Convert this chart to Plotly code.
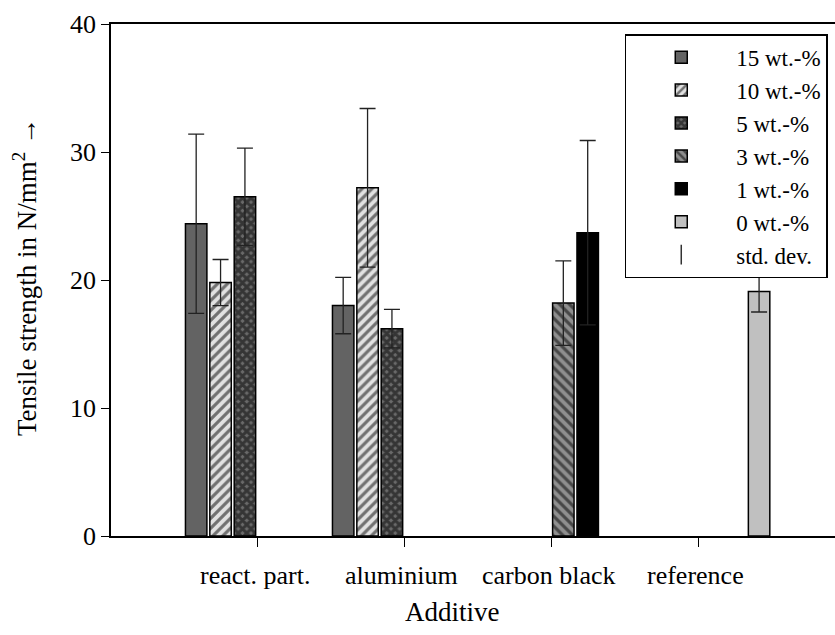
import plotly.graph_objects as go

categories = ["react. part.", "aluminium", "carbon black", "reference"]
series_names = ["15 wt.-%", "10 wt.-%", "5 wt.-%", "3 wt.-%", "1 wt.-%", "0 wt.-%"]
means = {
    "15 wt.-%": [24.4, 18.0, None, None],
    "10 wt.-%": [19.8, 27.2, None, None],
    "5 wt.-%": [26.5, 16.2, None, None],
    "3 wt.-%": [None, None, 18.2, None],
    "1 wt.-%": [None, None, 23.7, None],
    "0 wt.-%": [None, None, None, 19.1],
}
stds = {
    "15 wt.-%": [7.0, 2.2, None, None],
    "10 wt.-%": [1.8, 6.2, None, None],
    "5 wt.-%": [3.8, 1.5, None, None],
    "3 wt.-%": [None, None, 3.3, None],
    "1 wt.-%": [None, None, 7.2, None],
    "0 wt.-%": [None, None, None, 1.6],
}
y_ticks = [0, 10, 20, 30, 40]

styles = {
    "15 wt.-%": dict(bg="#636363", shape="", fg="#000000", size=7, solidity=0.3),
    "10 wt.-%": dict(bg="#e2e2e2", shape="/", fg="#000000", size=7, solidity=0.45),
    "5 wt.-%": dict(bg="#6a6a6a", shape="x", fg="#000000", size=6, solidity=0.75),
    "3 wt.-%": dict(bg="#8f8f8f", shape="\\", fg="#000000", size=7, solidity=0.45),
    "1 wt.-%": dict(bg="#000000", shape="", fg="#000000", size=7, solidity=0.3),
    "0 wt.-%": dict(bg="#c0c0c0", shape="", fg="#000000", size=7, solidity=0.3),
}

FONT = "Liberation Serif"
FS = 26
fig = go.Figure()
for i, name in enumerate(series_names):
    st = styles[name]
    pattern = dict(shape=st["shape"], fgcolor=st["fg"], bgcolor=st["bg"],
                   size=st["size"], solidity=st["solidity"], fillmode="overlay")
    fig.add_trace(go.Bar(
        name=name, x=categories, y=means[name],
        marker=dict(color=st["bg"], line=dict(color="#000000", width=1.5),
                    pattern=pattern),
        error_y=dict(type="data", array=stds[name], visible=True,
                     color="#222222", thickness=1.3, width=8),
        legendgroup=name,
    ))

fig.add_trace(go.Scatter(
    name="std. dev.", x=[None], y=[None], mode="markers",
    marker=dict(symbol="line-ns-open", size=14, color="#333333",
                line=dict(color="#333333", width=1.5)),
    legendgroup="std",
))

annotations = []
for i, lab in enumerate(categories):
    annotations.append(dict(x=i - 0.015, y=-0.078, xref="x", yref="paper", text=lab,
                            showarrow=False, xanchor="center", yanchor="middle",
                            font=dict(family=FONT, size=FS, color="#000")))
annotations.append(dict(x=0.471, y=-0.148, xref="paper", yref="paper", text="Additive",
                        showarrow=False, xanchor="center", yanchor="middle",
                        font=dict(family=FONT, size=27, color="#000")))
annotations.append(dict(x=-0.118, y=0.505, xref="paper", yref="paper",
                        text="Tensile strength in N/mm<sup>2</sup> \u2192",
                        textangle=-90, showarrow=False, xanchor="center", yanchor="middle",
                        font=dict(family=FONT, size=27, color="#000")))

fig.update_layout(
    width=835, height=635,
    margin=dict(l=111, r=0, t=24, b=99),
    paper_bgcolor="white", plot_bgcolor="white",
    barmode="group", bargap=0.005, bargroupgap=0.12,
    font=dict(family=FONT, size=FS, color="#000"),
    legend=dict(x=0.99, y=0.98, xanchor="right", yanchor="top",
                bgcolor="white", bordercolor="#000", borderwidth=1.5,
                font=dict(family=FONT, size=23, color="#000"),
                tracegroupgap=0, itemwidth=100),
    annotations=annotations,
    showlegend=True,
)
fig.update_xaxes(type="category", range=[-0.994, 3.931], showline=True, linecolor="#000",
                 linewidth=1.5, mirror=True, ticks="outside", ticklen=9, tickcolor="#000",
                 tickwidth=1.2, showticklabels=False, showgrid=False, zeroline=False)
fig.update_yaxes(range=[0, 40], tickvals=y_ticks, showline=True, linecolor="#000",
                 linewidth=1.5, ticks="outside", ticklen=8, tickcolor="#000", tickwidth=1.2,
                 showgrid=False, zeroline=False,
                 tickfont=dict(family=FONT, size=FS, color="#000"))

fig.write_html("out.html")
